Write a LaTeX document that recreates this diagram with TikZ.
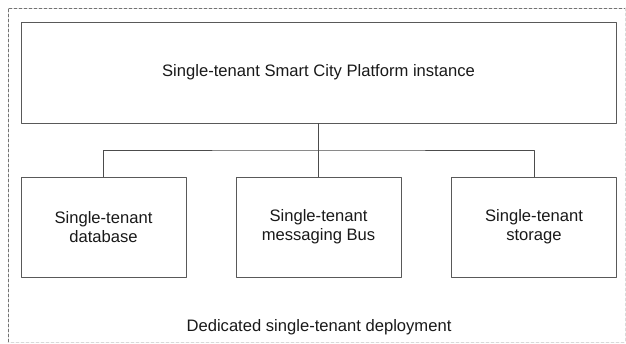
\documentclass[tikz,border=0pt]{standalone}
\usepackage{fontspec}
\setmainfont{Liberation Sans}
\usetikzlibrary{calc}

\begin{document}
\begin{tikzpicture}[x=1pt,y=-1pt,line cap=round,line join=round,
  every node/.style={font=\fontsize{16.6}{19}\selectfont,text=black!90},
  unit/.style={draw=black!65,line width=.8pt,align=center,inner sep=0pt},
  link/.style={draw=black!70,line width=.8pt},
  frame/.style={line width=.6pt,dash pattern=on 3pt off 2pt}]
  \useasboundingbox (0,0) rectangle (626,343);
  % dashed deployment frame (right and bottom edges run along the border)
  \draw[frame,black!55] (8,342) -- (8,8) -- (625,8);
  \draw[frame,black!15] (625,8) -- (625,342) -- (8,342);
  % platform instance and its dedicated services
  \node[unit,minimum width=595pt,minimum height=101pt] (platform) at (318.5,72.5)
    {Single-tenant Smart City Platform instance};
  \node[unit,minimum width=165pt,minimum height=100pt] (db) at (103.5,227)
    {Single-tenant\\database};
  \node[unit,minimum width=165pt,minimum height=100pt] (bus) at (318.5,227)
    {Single-tenant\\messaging Bus};
  \node[unit,minimum width=165pt,minimum height=100pt] (store) at (534,227)
    {Single-tenant\\storage};
  \coordinate (split) at ($(platform.south)!.5!(bus.north)$);
  \draw[link] (platform.south) -- (bus.north);
  \draw[link] (db.north) |- (split) -| (store.north);
  \node (label) at (319,327) {Dedicated single-tenant deployment};
\end{tikzpicture}
\end{document}
